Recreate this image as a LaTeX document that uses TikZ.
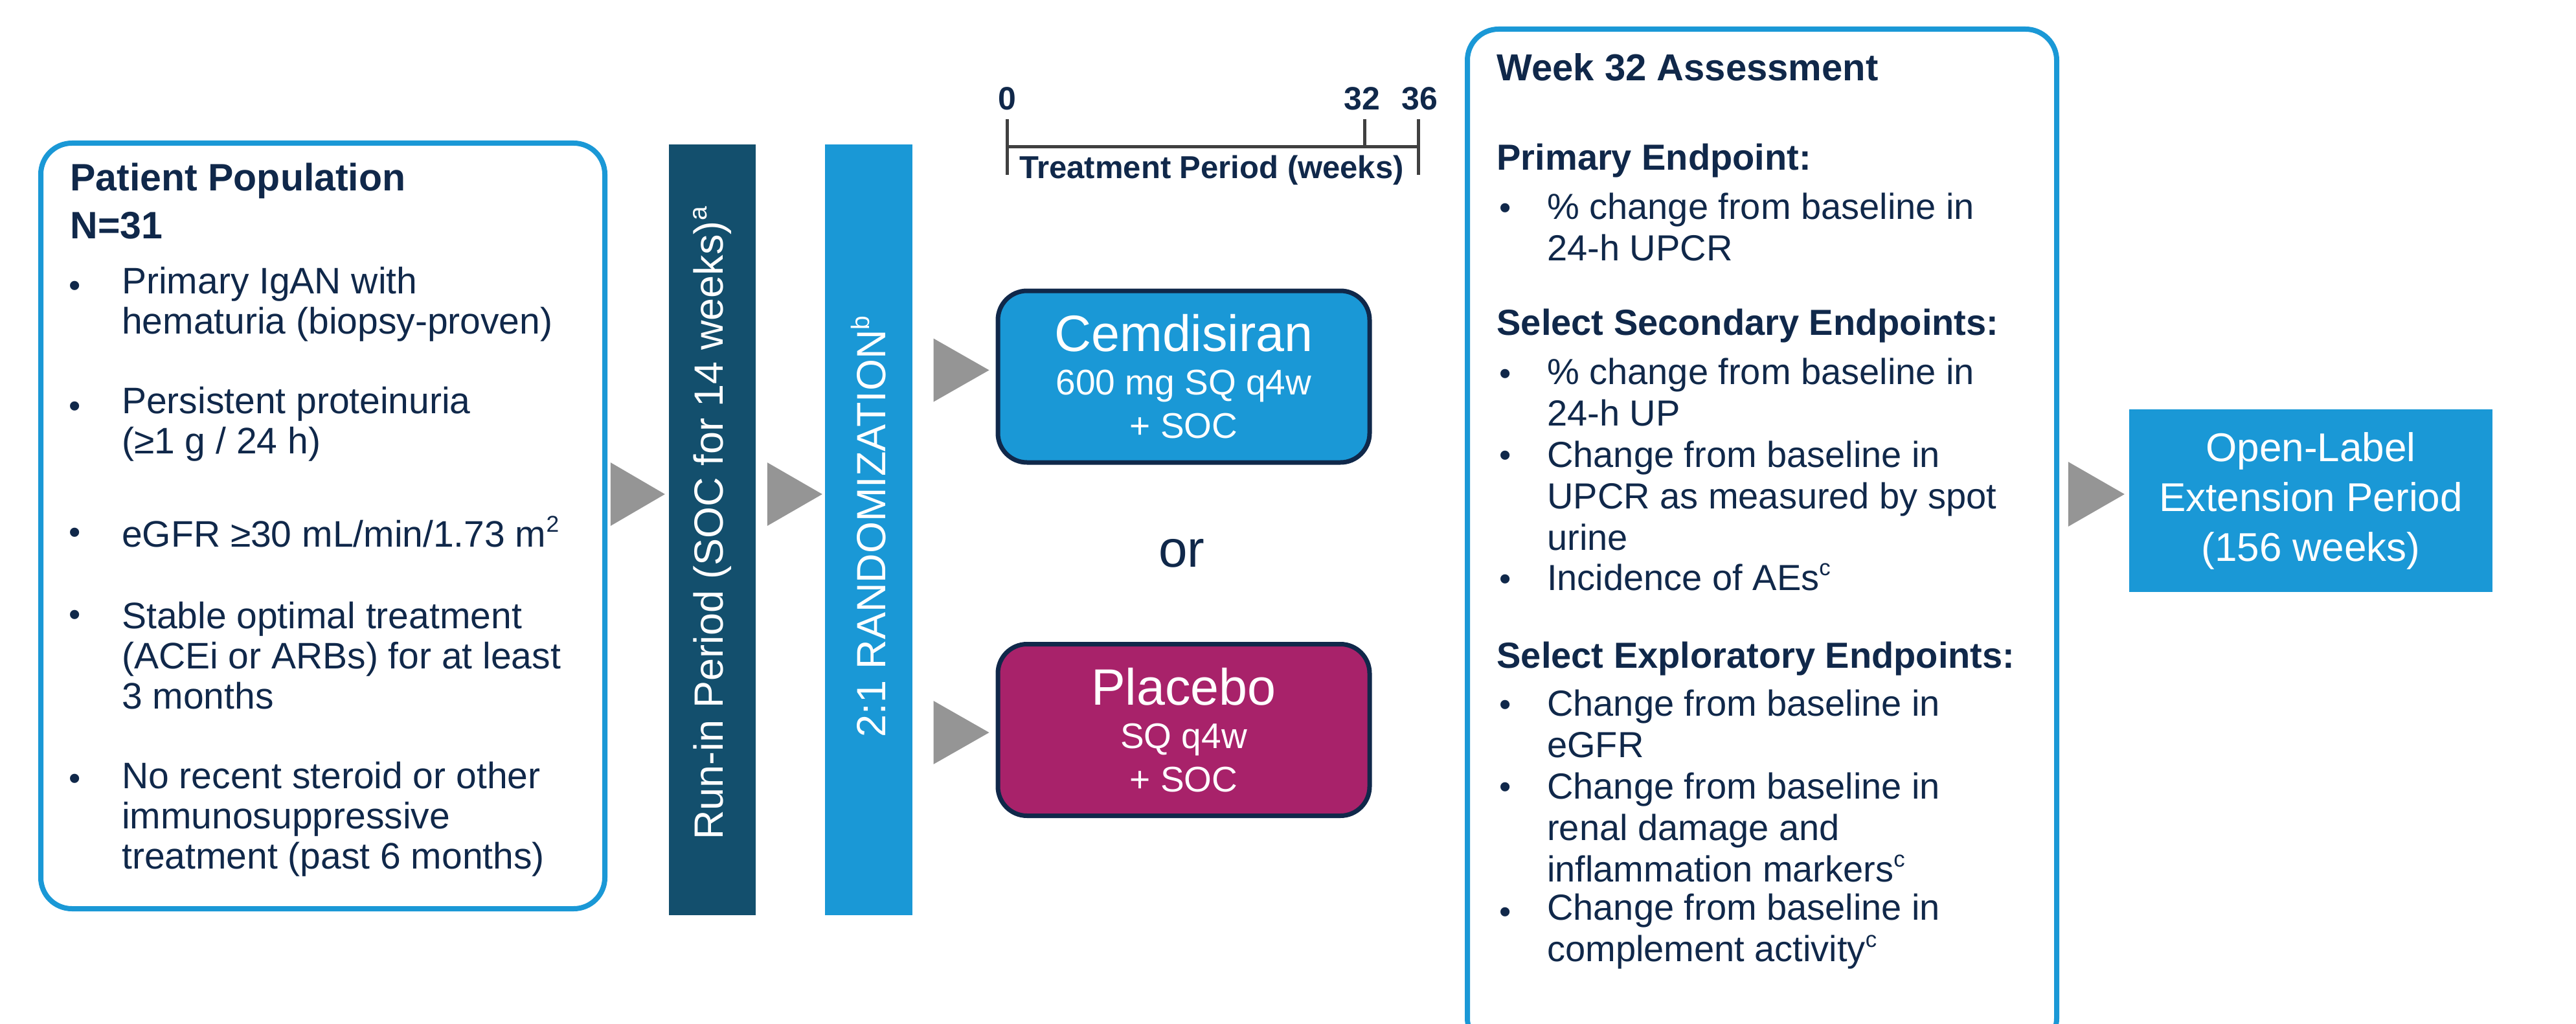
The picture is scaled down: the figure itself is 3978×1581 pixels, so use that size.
\documentclass[tikz,border=0pt]{standalone}
\usepackage{fontspec}
\setmainfont{Liberation Sans}
\usetikzlibrary{calc}

\definecolor{navy}{HTML}{10284A}
\definecolor{cyanblue}{HTML}{1A98D6}
\definecolor{runteal}{HTML}{134F6D}
\definecolor{plum}{HTML}{A8226A}
\definecolor{arrowgray}{HTML}{959595}
\definecolor{axisgray}{HTML}{404040}

\newcommand\setfs[2]{\fontsize{#1}{#2}\selectfont}
% raised footnote mark that scales with the surrounding text
\newcommand\supmark[1]{\raisebox{0.4em}{\scalebox{0.62}{#1}}}

\begin{document}
\begin{tikzpicture}[x=1pt,y=-1pt,
  panel/.style={draw=cyanblue, line width=8pt, rounded corners=48pt, fill=white, inner sep=0pt},
  bar/.style={inner sep=0pt, draw=none},
  arm/.style={draw=navy, line width=7pt, rounded corners=45pt, minimum width=574pt,
              minimum height=265pt, text=white, align=center, inner sep=0pt,
              font=\setfs{55}{67}},
  head/.style={anchor=west, text=navy, font=\bfseries\setfs{56}{64}},
  lefthead/.style={anchor=west, text=navy, font=\bfseries\setfs{59}{69}},
  item/.style={anchor=west, align=left, text=navy, font=\setfs{57}{62}, inner sep=0pt},
  ritem/.style={anchor=west, align=left, text=navy, font=\setfs{56}{64}, inner sep=0pt},
  bul/.style={text=navy, font=\setfs{52}{60}, inner sep=0pt},
  vlabel/.style={rotate=90, text=white, font=\setfs{63}{70}, inner sep=0pt},
  tick/.style={text=navy, font=\bfseries\setfs{50}{58}, inner sep=0pt},
  axis/.style={draw=axisgray, line width=5pt},
  flowtip/.style={fill=arrowgray}
]
\useasboundingbox (0,0) rectangle (3978,1581);
\begin{scope}
\clip (0,0) rectangle (3978,1581);

% ---------- patient population ----------
\node[panel, minimum width=871pt, minimum height=1182pt] (pop) at (498.5,812) {};
\node[lefthead] (poptitle) at (105,279) {Patient Population};
\node[lefthead] (popn) at (105,348) {N=31};

\node[bul] (b1) at (116,446) {•};
\node[item] (i1) at (188,470) {Primary IgAN with\\hematuria (biopsy-proven)};
\node[bul] (b2) at (116,632) {•};
\node[item] (i2) at (188,655) {Persistent proteinuria\\(≥1 g / 24 h)};
\node[bul] (b3) at (116,827) {•};
\node[item] (i3) at (188,821) {eGFR ≥30 mL/min/1.73 m\supmark{2}};
\node[bul] (b4) at (116,954) {•};
\node[item] (i4) at (188,1012) {Stable optimal treatment\\(ACEi or ARBs) for at least\\3 months};
\node[bul] (b5) at (116,1207) {•};
\node[item] (i5) at (188,1265) {No recent steroid or other\\immunosuppressive\\treatment (past 6 months)};

% ---------- run-in and randomization bars ----------
\node[bar, fill=runteal, minimum width=134pt, minimum height=1190pt] (runin) at (1100,818) {};
\node[vlabel] (runintext) at ($(runin.center)+(0,-10)$) {Run-in Period (SOC for 14 weeks)\supmark{a}};
\node[bar, fill=cyanblue, minimum width=135pt, minimum height=1190pt] (rand) at (1341.5,818) {};
\node[vlabel] (randtext) at ($(rand.center)+(0,-5)$) {2:1 RANDOMIZATION\supmark{b}};

% ---------- treatment arms ----------
\node[arm, fill=cyanblue] (cem) at (1828,581.5)
  {{\setfs{79}{68}Cemdisiran}\\600 mg SQ q4w\\+ SOC};
\node[text=navy, font=\setfs{80}{90}, inner sep=0pt] (or) at (1825,854) {or};
\node[arm, fill=plum] (pla) at (1828,1127)
  {{\setfs{79}{68}Placebo}\\SQ q4w\\+ SOC};

% ---------- treatment period scale ----------
\draw[axis] (1555,184) -- (1555,270);
\draw[axis] (1555,227) -- (2190,227);
\draw[axis] (2107,184) -- (2107,227);
\draw[axis] (2190,184) -- (2190,270);
\node[tick] (t0) at (1555,152) {0};
\node[tick] (t32) at (2103,152) {32};
\node[tick] (t36) at (2192,152) {36};
\node[text=navy, font=\bfseries\setfs{49}{58}, inner sep=0pt] (tplabel) at (1871,263) {Treatment Period (weeks)};

% ---------- week 32 assessment ----------
\node[panel, minimum width=910pt, minimum height=1575pt] (week) at (2721,832.5) {};
\node[head, font=\bfseries\setfs{58}{66}] (wtitle) at (2308,104) {Week 32 Assessment};

\node[head] (hprim) at (2308,248) {Primary Endpoint:};
\node[bul] (r1) at (2325,326) {•};
\node[ritem] (e1) at (2389,350) {\% change from baseline in\\24-h UPCR};

\node[head] (hsec) at (2308,503) {Select Secondary Endpoints:};
\node[bul] (r2) at (2325,582) {•};
\node[ritem] (e2) at (2389,605) {\% change from baseline in\\24-h UP};
\node[bul] (r3) at (2325,708) {•};
\node[ritem] (e3) at (2389,765) {Change from baseline in\\UPCR as measured by spot\\urine};
\node[bul] (r4) at (2325,899) {•};
\node[ritem] (e4) at (2389,891) {Incidence of AEs\supmark{c}};

\node[head] (hexp) at (2308,1017) {Select Exploratory Endpoints:};
\node[bul] (r5) at (2325,1093) {•};
\node[ritem] (e5) at (2389,1117) {Change from baseline in\\eGFR};
\node[bul] (r6) at (2325,1220) {•};
\node[ritem] (e6) at (2389,1277) {Change from baseline in\\renal damage and\\inflammation markers\supmark{c}};
\node[bul] (r7) at (2325,1413) {•};
\node[ritem] (e7) at (2389,1438) {Change from baseline in\\complement activity\supmark{c}};

% ---------- open-label extension ----------
\node[fill=cyanblue, minimum width=561pt, minimum height=282pt, inner sep=0pt,
      text=white, align=center, font=\setfs{62}{77}] (ole) at (3568.5,773)
  {Open-Label\\Extension Period\\(156 weeks)};

% ---------- flow arrowheads ----------
\coordinate (flow) at (0,763);
\fill[flowtip] ($(runin.west |- flow)+(-6,0)$) -- ++(-84,-49) -- ++(0,98) -- cycle;
\fill[flowtip] ($(rand.west |- flow)+(-4,0)$) -- ++(-85,-49) -- ++(0,98) -- cycle;
\fill[flowtip] ($(cem.west)+(-10,-10)$) -- ++(-86,-49) -- ++(0,98) -- cycle;
\fill[flowtip] ($(pla.west)+(-10,4)$) -- ++(-86,-49) -- ++(0,98) -- cycle;
\fill[flowtip] ($(ole.west |- flow)+(-7,0)$) -- ++(-87,-50) -- ++(0,100) -- cycle;
\end{scope}
\end{tikzpicture}
\end{document}
